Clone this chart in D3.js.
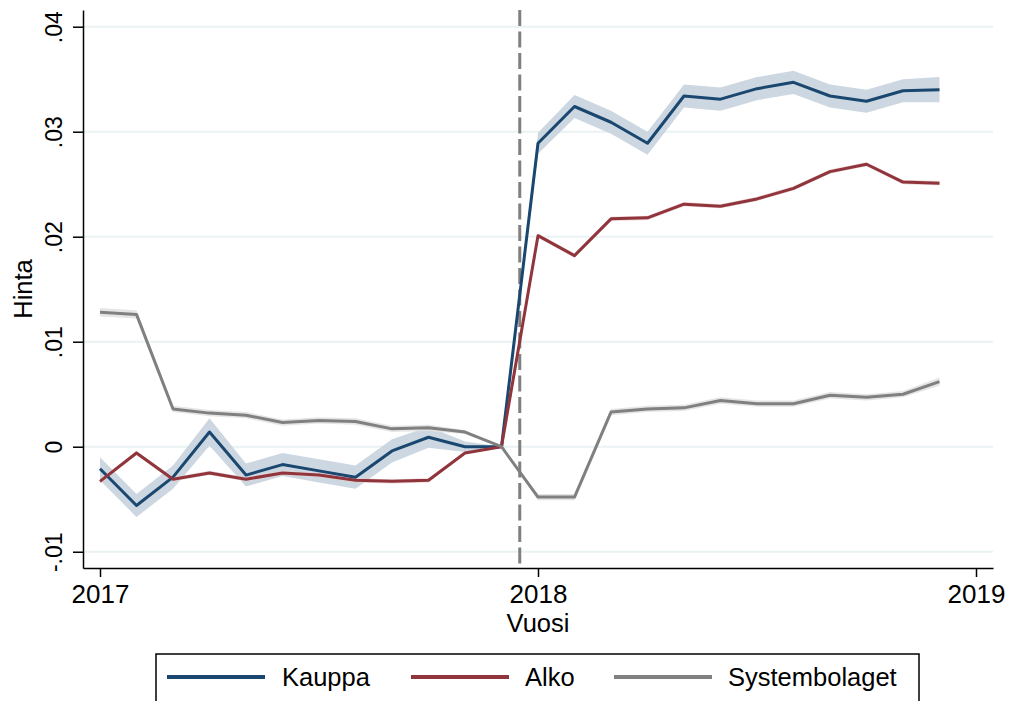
<!DOCTYPE html>
<html>
<head>
<meta charset="utf-8">
<script src="https://cdn.jsdelivr.net/npm/d3@7"></script>
<style>
  body { margin: 0; background: #fff; }
  text { font-family: "Liberation Sans", Arial, sans-serif; fill: #000; }
</style>
</head>
<body>
<svg id="chart" width="1010" height="701"></svg>
<script>
// months 2017m1 .. 2018m12
var months = ["2017-01","2017-02","2017-03","2017-04","2017-05","2017-06",
              "2017-07","2017-08","2017-09","2017-10","2017-11","2017-12",
              "2018-01","2018-02","2018-03","2018-04","2018-05","2018-06",
              "2018-07","2018-08","2018-09","2018-10","2018-11","2018-12"];

var seriesNames = ["Kauppa", "Alko", "Systembolaget"];

var kauppa = [-0.0021, -0.0056, -0.0029, 0.0014, -0.0027, -0.0017,
              -0.0023, -0.0029, -0.0004, 0.0009, 0.0000, 0.0000,
               0.0289, 0.0324, 0.0309, 0.0289, 0.0334, 0.0331,
               0.0341, 0.0347, 0.0334, 0.0329, 0.0339, 0.0340];
var kauppaCI = [0.0011, 0.0011, 0.0011, 0.0013, 0.0011, 0.0011,
                0.0011, 0.0011, 0.0011, 0.0010, 0.0005, 0.0000,
                0.0010, 0.0011, 0.0011, 0.0011, 0.0011, 0.0011,
                0.0011, 0.0011, 0.0011, 0.0011, 0.0011, 0.0012];

var alko = [-0.0033, -0.0006, -0.0031, -0.0025, -0.0031, -0.0025,
            -0.0027, -0.0032, -0.0033, -0.0032, -0.0006, 0.0000,
             0.0201, 0.0182, 0.0217, 0.0218, 0.0231, 0.0229,
             0.0236, 0.0246, 0.0262, 0.0269, 0.0252, 0.0251];
var alkoCI = [0.0002, 0.0002, 0.0002, 0.0002, 0.0002, 0.0002,
              0.0002, 0.0002, 0.0002, 0.0002, 0.0001, 0.0000,
              0.0002, 0.0002, 0.0002, 0.0002, 0.0002, 0.0002,
              0.0002, 0.0002, 0.0002, 0.0002, 0.0002, 0.0002];

var systembolaget = [0.0128, 0.0126, 0.0036, 0.0032, 0.0030, 0.0023,
                     0.0025, 0.0024, 0.0017, 0.0018, 0.0014, 0.0000,
                    -0.0048, -0.0048, 0.0033, 0.0036, 0.0037, 0.0044,
                     0.0041, 0.0041, 0.0049, 0.0047, 0.0050, 0.0062];
var systembolagetCI = [0.0004, 0.0004, 0.0003, 0.0003, 0.0003, 0.0003,
                       0.0003, 0.0003, 0.0003, 0.0003, 0.0002, 0.0000,
                       0.0003, 0.0003, 0.0003, 0.0003, 0.0003, 0.0003,
                       0.0003, 0.0003, 0.0003, 0.0003, 0.0003, 0.0004];

var xTicks = [2017, 2018, 2019];
var yTicks = [-0.01, 0, 0.01, 0.02, 0.03, 0.04];
var yTickLabels = ["-.01", "0", ".01", ".02", ".03", ".04"];
var reform = "2017-12.5"; // vertical marker between Dec 2017 and Jan 2018

var lineColors = ["#1a476f", "#90353b", "#808080"];
var bandColors = ["#c7d3de", "#e9cfd1", "#e2e2e2"];

function monthValue(s) {
    var p = s.split("-");
    return +p[0] + (+p[1] - 1) / 12;
}

var svg = d3.select("#chart");
var plotLeft = 83, plotRight = 993, plotTop = 10, plotBottom = 568;

svg.append("rect").attr("width", 1010).attr("height", 701).attr("fill", "#fff");

var x = d3.scaleLinear()
    .domain([2017 - 17 / 438, 2019 + 17 / 438])
    .range([plotLeft, plotRight]);
var y = d3.scaleLinear()
    .domain([-0.01155, 0.04159])
    .range([plotBottom, plotTop]);

// gridlines
svg.append("g").selectAll("line")
    .data(yTicks)
    .enter().append("line")
    .attr("x1", plotLeft).attr("x2", plotRight)
    .attr("y1", function(d) { return y(d); })
    .attr("y2", function(d) { return y(d); })
    .attr("stroke", "#eaf2f3")
    .attr("stroke-width", 2);

// xline
var xr = x(monthValue(reform));
svg.append("line")
    .attr("x1", xr).attr("x2", xr)
    .attr("y1", plotTop).attr("y2", plotBottom)
    .attr("stroke", "#808080")
    .attr("stroke-width", 3)
    .attr("stroke-dasharray", "16,5.5");

var series = [
    { vals: kauppa, ci: kauppaCI },
    { vals: alko, ci: alkoCI },
    { vals: systembolaget, ci: systembolagetCI }
];

var area = d3.area()
    .x(function(d) { return x(d.t); })
    .y0(function(d) { return y(d.v - d.c); })
    .y1(function(d) { return y(d.v + d.c); });
var line = d3.line()
    .x(function(d) { return x(d.t); })
    .y(function(d) { return y(d.v); });

var rows = series.map(function(s) {
    return months.map(function(m, i) {
        return { t: monthValue(m), v: s.vals[i], c: s.ci[i] };
    });
});

svg.append("g").selectAll("path")
    .data(rows)
    .enter().append("path")
    .attr("d", area)
    .attr("fill", function(d, i) { return bandColors[i]; })
    .attr("fill-opacity", 0.9);

svg.append("g").selectAll("path")
    .data(rows)
    .enter().append("path")
    .attr("d", line)
    .attr("fill", "none")
    .attr("stroke", function(d, i) { return lineColors[i]; })
    .attr("stroke-width", 3)
    .attr("stroke-linejoin", "round");

// axes
var xAxis = svg.append("g")
    .attr("transform", "translate(0," + plotBottom + ")")
    .call(d3.axisBottom(x).tickValues(xTicks).tickFormat(d3.format("d")).tickSize(9).tickSizeOuter(0));
xAxis.select(".domain").attr("stroke", "#000").attr("stroke-width", 1.5);
xAxis.selectAll(".tick line").attr("stroke", "#000").attr("stroke-width", 1.5);
xAxis.selectAll("text")
    .attr("y", 35).attr("dy", 0)
    .style("font-size", "26px")
    .style("font-family", "'Liberation Sans', Arial, sans-serif")
    .attr("fill", "#000");

var yAxis = svg.append("g")
    .attr("transform", "translate(" + plotLeft + ",0)")
    .call(d3.axisLeft(y).tickValues(yTicks)
        .tickFormat(function(d, i) { return yTickLabels[i]; })
        .tickSize(10).tickSizeOuter(0));
yAxis.select(".domain").attr("stroke", "#000").attr("stroke-width", 1.5);
yAxis.selectAll(".tick line").attr("stroke", "#000").attr("stroke-width", 1.5);
yAxis.selectAll("text")
    .attr("x", 0).attr("y", 0).attr("dy", 0)
    .attr("transform", "translate(-21,0) rotate(-90)")
    .attr("text-anchor", "middle")
    .style("font-size", "23px")
    .style("font-family", "'Liberation Sans', Arial, sans-serif")
    .attr("fill", "#000");

// titles
svg.append("text")
    .attr("x", x(2018)).attr("y", 632)
    .attr("text-anchor", "middle")
    .style("font-size", "25.5px")
    .text("Vuosi");
svg.append("text")
    .attr("transform", "translate(32," + (plotTop + plotBottom) / 2 + ") rotate(-90)")
    .attr("text-anchor", "middle")
    .style("font-size", "25.5px")
    .text("Hinta");

// legend
var legend = svg.append("g");
legend.append("rect")
    .attr("x", 156).attr("y", 654)
    .attr("width", 763).attr("height", 70)
    .attr("fill", "#fff")
    .attr("stroke", "#000")
    .attr("stroke-width", 1.5);
var keyX = [167, 411, 614];
var textX = [282, 525, 728];
seriesNames.forEach(function(name, i) {
    legend.append("line")
        .attr("x1", keyX[i]).attr("x2", keyX[i] + 98)
        .attr("y1", 677).attr("y2", 677)
        .attr("stroke", lineColors[i])
        .attr("stroke-width", 4);
    legend.append("text")
        .attr("x", textX[i]).attr("y", 686)
        .style("font-size", "25.5px")
        .text(name);
});
</script>
</body>
</html>
